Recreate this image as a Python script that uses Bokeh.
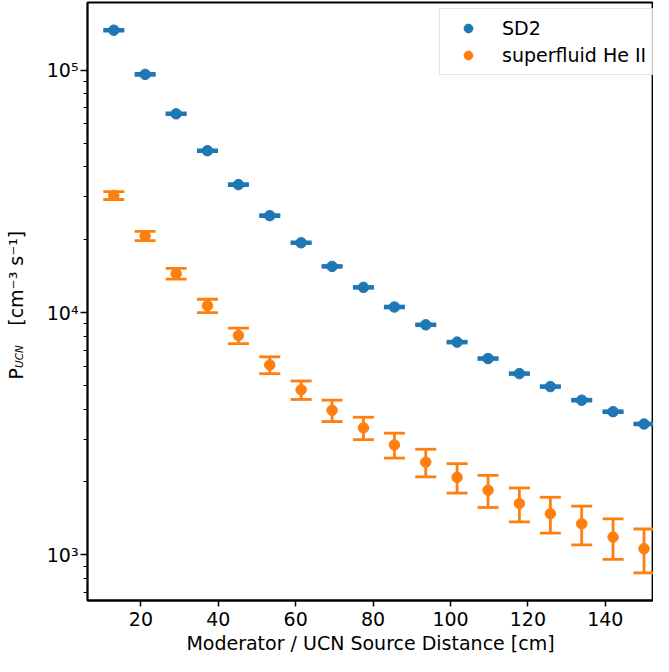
import math
from bokeh.plotting import figure
from bokeh.models import (Range1d, FixedTicker, Legend, LegendItem,
                          Label, CustomJSTickFormatter, ColumnDataSource)
from bokeh.embed import file_html
from bokeh.resources import INLINE

# ---- data ----
distance = [13.0, 21.1, 29.1, 37.2, 45.2, 53.3, 61.4, 69.4, 77.5, 85.5,
            93.6, 101.7, 109.7, 117.8, 125.8, 133.9, 142.0, 150.0]
sd2_rate = [146000, 96000, 66000, 46500, 33700, 25100, 19400, 15500, 12700, 10540,
            8900, 7550, 6460, 5600, 4950, 4350, 3900, 3470]
sd2_err = [1200, 800, 550, 380, 280, 210, 160, 130, 105, 90,
           75, 65, 55, 48, 42, 38, 34, 30]
he_rate = [30400, 20700, 14470, 10670, 8040, 6080, 4800, 3950, 3345, 2845,
           2415, 2090, 1850, 1630, 1480, 1345, 1185, 1062]
he_err = [1150, 900, 730, 675, 590, 485, 420, 400, 355, 335,
          315, 290, 280, 260, 250, 245, 225, 218]

x_ticks = [20, 40, 60, 80, 100, 120, 140]
y_ticks = [1e3, 1e4, 1e5]
y_minor = [m * 10 ** k for k in (2, 3, 4, 5) for m in range(2, 10)]

series = [
    ("SD2", "#1f77b4", sd2_rate, sd2_err),
    ("superfluid He II", "#ff7f0e", he_rate, he_err),
]

FONT = "DejaVu Sans"

p = figure(width=653, height=656,
           x_range=Range1d(6.2, 152.45), y_range=Range1d(649, 1.9e5),
           y_axis_type="log", output_backend="svg", toolbar_location=None,
           min_border_left=87, min_border_right=0, min_border_top=2,
           min_border_bottom=10)
p.outline_line_color = "black"
p.outline_line_width = 1.8
p.grid.visible = False
p.background_fill_color = "white"
p.border_fill_color = "white"

xa = p.below[0]
xa.ticker = FixedTicker(ticks=x_ticks)
xa.minor_tick_line_color = None
xa.major_tick_out = 6
xa.major_tick_in = 0
xa.major_tick_line_width = 1.5
xa.axis_line_width = 1.8
xa.axis_line_color = "black"
xa.major_label_text_font = FONT
xa.major_label_text_font_size = "19px"
xa.major_label_text_color = "black"
xa.major_label_standoff = 5
xa.axis_label = "Moderator / UCN Source Distance [cm]"
xa.axis_label_text_font = FONT
xa.axis_label_text_font_size = "19px"
xa.axis_label_text_font_style = "normal"
xa.axis_label_text_color = "black"
xa.axis_label_standoff = 3

ya = p.left[0]
ya.ticker = FixedTicker(ticks=y_ticks, minor_ticks=y_minor)
ya.formatter = CustomJSTickFormatter(code="""
const sup = {"0":"\u2070","1":"\u00b9","2":"\u00b2","3":"\u00b3","4":"\u2074",
             "5":"\u2075","6":"\u2076","7":"\u2077","8":"\u2078","9":"\u2079","-":"\u207b"};
const e = Math.round(Math.log10(tick));
return "10" + String(e).split("").map(c => sup[c]).join("");
""")
ya.major_tick_out = 7
ya.major_tick_in = 0
ya.minor_tick_out = 4
ya.minor_tick_in = 0
ya.major_tick_line_width = 1.5
ya.minor_tick_line_width = 1.2
ya.axis_line_width = 1.8
ya.axis_line_color = "black"
ya.major_label_text_font = FONT
ya.major_label_text_font_size = "19px"
ya.major_label_text_color = "black"
ya.major_label_standoff = 2

items = []
for name, color, rate, err in series:
    lower = [v - e for v, e in zip(rate, err)]
    upper = [v + e for v, e in zip(rate, err)]
    src = ColumnDataSource(dict(x=distance, y=rate, lo=lower, hi=upper))
    p.segment(x0="x", y0="lo", x1="x", y1="hi", source=src,
              line_color=color, line_width=2.8)
    p.scatter("x", "lo", source=src, marker="dash", size=21,
              line_color=color, line_width=2.8)
    p.scatter("x", "hi", source=src, marker="dash", size=21,
              line_color=color, line_width=2.8)
    c = p.scatter("x", "y", source=src, marker="circle", size=10.5,
                  fill_color=color, line_color=color)
    items.append(LegendItem(label=name, renderers=[c]))

legend = Legend(items=items, location=(352, 525), margin=0,
                padding=8, spacing=5, glyph_width=40, glyph_height=22,
                label_height=22, label_standoff=14,
                label_text_font=FONT, label_text_font_size="19px",
                label_text_color="black",
                border_line_color="#cccccc", border_line_width=1,
                background_fill_color="white", background_fill_alpha=0.8)
p.add_layout(legend, "center")

# y axis label: "P" + units in one label, subscript "UCN" in another
lbl_kw = dict(x_units="screen", y_units="screen", angle=math.pi / 2,
              text_align="left", text_baseline="middle",
              text_font=FONT, text_color="black")
p.add_layout(Label(x=-6, y=221,
                   text="P" + "\u00a0" * 7 + "[cm\u207b\u00b3\u00a0s\u207b\u00b9]",
                   text_font_size="19px", **lbl_kw), "left")
p.add_layout(Label(x=9.5, y=232.5, text="UCN", text_font_size="10.5px",
                   text_font_style="italic", **lbl_kw), "left")

open("out.html", "w", encoding="utf-8").write(file_html(p, INLINE))
